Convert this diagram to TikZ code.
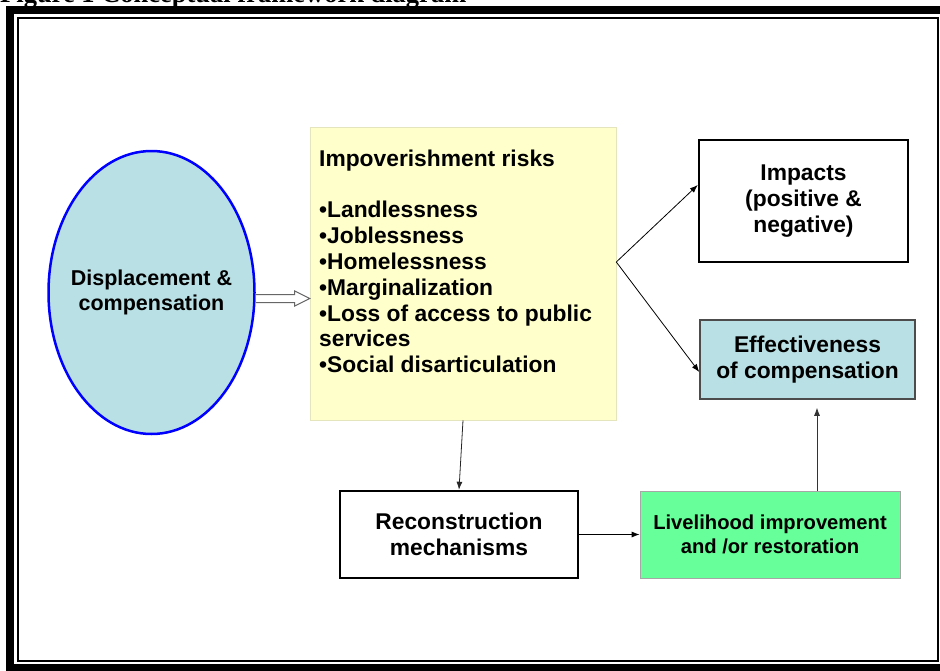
\documentclass[tikz,border=0pt]{standalone}
\usepackage{fontspec}
\setmainfont{Liberation Sans}
\newfontfamily\titlefont{Liberation Serif}
\usetikzlibrary{shapes.geometric,arrows.meta,calc}

\definecolor{paleblue}{RGB}{185,224,228}
\definecolor{paleyellow}{RGB}{255,255,204}
\definecolor{mintgreen}{RGB}{102,255,153}

\begin{document}
\begin{tikzpicture}[x=1pt,y=-1pt,
    box/.style={rectangle, align=center, inner sep=0pt,
        font=\bfseries\fontsize{22.8}{25.8}\selectfont},
    link/.style={-{Latex[length=8pt,width=6pt]}, line width=0.8pt},
    hollow/.style={draw=gray!80!black, fill=white, line width=1pt, line join=miter}]
    \useasboundingbox (0,0) rectangle (940,670);

    % Caption line, cut by the top edge
    \node[anchor=base west, inner sep=0pt,
        font=\titlefont\bfseries\fontsize{26.5}{30}\selectfont] (caption) at (0,2.5)
        {Figure 1 Conceptual framework diagram};

    % Page frame: thick outer band and thin inner line
    \fill (6,6) rectangle (960,14);
    \fill (6,6) rectangle (14,690);
    \fill (6,664) rectangle (960,690);
    \draw[line width=2pt] (18,18) rectangle (938,661);

    % Starting point
    \node[ellipse, draw=blue, line width=2.5pt, fill=paleblue, inner sep=0pt,
        minimum width=206pt, minimum height=283pt] (disp) at (151.5,292.5) {};
    \node[align=center, inner sep=0pt,
        font=\bfseries\fontsize{21.5}{24.5}\selectfont] (disptext) at (disp.center)
        {Displacement \&\\compensation};

    % Risk list
    \node[box, draw=paleyellow!80!gray, line width=0.6pt, fill=paleyellow,
        minimum width=306pt, minimum height=293pt] (risks) at (463,273.5) {};
    \node[anchor=north west, align=left, inner sep=0pt,
        font=\bfseries\fontsize{22.8}{25.8}\selectfont] (risklist) at (319,149.5)
        {Impoverishment risks\\[25.8pt]
         •Landlessness\\
         •Joblessness\\
         •Homelessness\\
         •Marginalization\\
         •Loss of access to public\\
         services\\
         •Social disarticulation};

    % Outcome boxes on the right
    \node[box, draw, line width=2.5pt, minimum width=209pt, minimum height=122pt]
        (impacts) at (803.5,201) {Impacts\\(positive \&\\negative)};
    \node[box, draw=gray!60!black, line width=1.5pt, fill=paleblue,
        minimum width=215pt, minimum height=79pt]
        (effect) at (807.5,359.5) {Effectiveness\\of compensation};

    % Lower row
    \node[box, draw, line width=2.5pt, minimum width=238pt, minimum height=87pt]
        (recon) at (459,534.5) {Reconstruction\\mechanisms};
    \node[box, draw=gray!70, line width=0.8pt, fill=mintgreen,
        minimum width=260pt, minimum height=87pt,
        font=\bfseries\fontsize{20.2}{24}\selectfont]
        (live) at (770,534.5) {Livelihood improvement\\and /or restoration};

    % Hollow arrow into the risk list
    \coordinate (tail) at ($(disp.east)+(0,6)$);
    \coordinate (tip) at (risks.west |- tail);
    \draw[hollow] ($(tail)+(0,-4)$) -- ($(tip)+(-15,-4)$) -- ($(tip)+(-15,-7.5)$)
        -- (tip) -- ($(tip)+(-15,7.5)$) -- ($(tip)+(-15,4)$) -- ($(tail)+(0,4)$);

    % Fork from the risk list
    \coordinate (fork) at ([yshift=11.5pt]risks.east);
    \draw[link] (fork) -- ([yshift=16pt]impacts.west);
    \draw[link] (fork) -- ([yshift=-12.5pt]effect.west);

    % Remaining links
    \draw[link, gray!30!black] (risks.south) -- (recon.north);
    \draw[link] (recon.east) -- (live.west);
    \draw[link, gray!40!black] ([xshift=47pt]live.north)
        -- ([xshift=9.5pt,yshift=-8pt]effect.south);
\end{tikzpicture}
\end{document}
